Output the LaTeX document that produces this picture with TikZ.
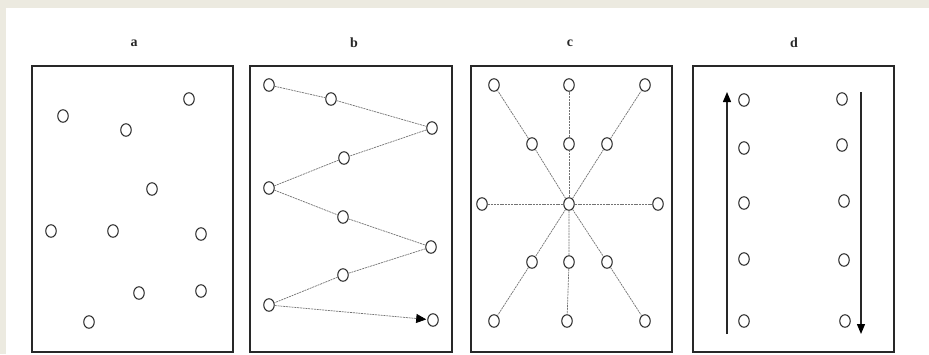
\documentclass[tikz,border=0pt]{standalone}
\usepackage{fontspec}
\setmainfont{Liberation Serif}
\usetikzlibrary{shapes.geometric,arrows.meta}
\definecolor{beige}{RGB}{236,234,224}
\definecolor{ink}{RGB}{40,40,40}
\tikzset{
  dot/.style={ellipse,draw=ink,line width=1.05pt,minimum width=10.5pt,minimum height=12.5pt,inner sep=0pt,fill=white},
  panel/.style={draw=ink,line width=1.3pt},
  lab/.style={font=\fontsize{14}{14}\selectfont\bfseries,text=ink},
  trail/.style={draw=black!55,line width=0.7pt,dash pattern=on 2pt off 0.8pt},
  flow/.style={draw=ink,line width=1.3pt,-{Triangle[length=10pt,width=8pt,color=black,fill=black]}}
}
\begin{document}
\begin{tikzpicture}[x=1pt,y=-1pt]
\fill[beige] (0,0) rectangle (929,354);
\fill[white] (6,8) rectangle (929,354);
\useasboundingbox (0,0) rectangle (929,354);
% boxes
\draw[panel] (32,66) rectangle (233,352);
\draw[panel] (250,66) rectangle (452,352);
\draw[panel] (471,66) rectangle (672,352);
\draw[panel] (693,66) rectangle (894,352);
% labels
\node[lab] (la) at (134,43) {a};
\node[lab] (lb) at (354,43) {b};
\node[lab] (lc) at (570,43) {c};
\node[lab] (ld) at (794,43) {d};
% panel a
\node[dot] (a1) at (63,116) {};
\node[dot] (a2) at (189,99) {};
\node[dot] (a3) at (126,130) {};
\node[dot] (a4) at (152,189) {};
\node[dot] (a5) at (51,231) {};
\node[dot] (a6) at (113,231) {};
\node[dot] (a7) at (201,234) {};
\node[dot] (a8) at (139,293) {};
\node[dot] (a9) at (201,291) {};
\node[dot] (a10) at (89,322) {};
% panel b
\node[dot] (b1) at (269,85) {};
\node[dot] (b2) at (331,99) {};
\node[dot] (b3) at (432,128) {};
\node[dot] (b4) at (344,158) {};
\node[dot] (b5) at (269,188) {};
\node[dot] (b6) at (343,217) {};
\node[dot] (b7) at (431,247) {};
\node[dot] (b8) at (343,275) {};
\node[dot] (b9) at (269,305) {};
\node[dot] (b10) at (433,320) {};
\draw[trail] (b1) -- (b2);
\draw[trail] (b2) -- (b3);
\draw[trail] (b3) -- (b4);
\draw[trail] (b4) -- (b5);
\draw[trail] (b5) -- (b6);
\draw[trail] (b6) -- (b7);
\draw[trail] (b7) -- (b8);
\draw[trail] (b8) -- (b9);
\draw[trail,-{Triangle[length=10pt,width=9pt,color=black,fill=black]},shorten >=1pt] (b9) -- (b10);
% panel c
\node[dot] (c11) at (494,85) {};
\node[dot] (c12) at (569,85) {};
\node[dot] (c13) at (645,85) {};
\node[dot] (c21) at (532,144) {};
\node[dot] (c22) at (569,144) {};
\node[dot] (c23) at (607,144) {};
\node[dot] (c31) at (482,204) {};
\node[dot] (c32) at (569,204) {};
\node[dot] (c33) at (658,204) {};
\node[dot] (c41) at (532,262) {};
\node[dot] (c42) at (569,262) {};
\node[dot] (c43) at (607,262) {};
\node[dot] (c51) at (494,321) {};
\node[dot] (c52) at (567,321) {};
\node[dot] (c53) at (645,321) {};
\draw[trail] (c32) -- (c21) -- (c11);
\draw[trail] (c32) -- (c22) -- (c12);
\draw[trail] (c32) -- (c23) -- (c13);
\draw[trail] (c32) -- (c31);
\draw[trail] (c32) -- (c33);
\draw[trail] (c32) -- (c41) -- (c51);
\draw[trail] (c32) -- (c42) -- (c52);
\draw[trail] (c32) -- (c43) -- (c53);
% panel d
\node[dot] (d11) at (744,100) {};
\node[dot] (d21) at (744,148) {};
\node[dot] (d31) at (744,203) {};
\node[dot] (d41) at (744,259) {};
\node[dot] (d51) at (744,321) {};
\node[dot] (d12) at (842,99) {};
\node[dot] (d22) at (842,145) {};
\node[dot] (d32) at (844,201) {};
\node[dot] (d42) at (844,260) {};
\node[dot] (d52) at (845,321) {};
\coordinate (up0) at (727,334);
\coordinate (up1) at (727,92);
\coordinate (dn0) at (861,92);
\coordinate (dn1) at (861,334);
\draw[flow] (up0) -- (up1);
\draw[flow] (dn0) -- (dn1);
\end{tikzpicture}
\end{document}
